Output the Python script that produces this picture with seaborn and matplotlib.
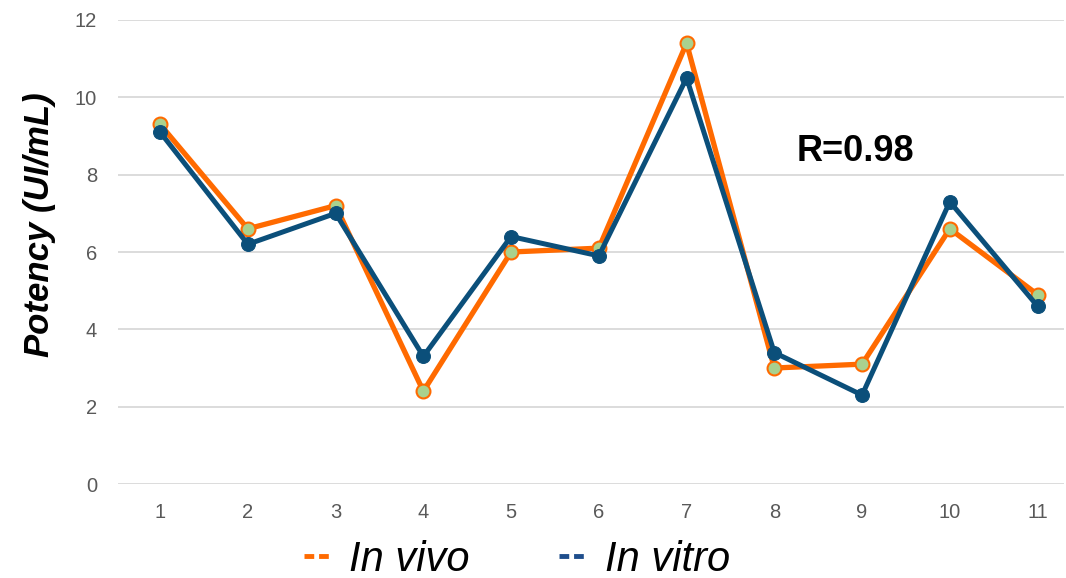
import matplotlib
matplotlib.use("Agg")
import matplotlib.pyplot as plt
import seaborn as sns
import pandas as pd
from matplotlib.lines import Line2D

samples = [1, 2, 3, 4, 5, 6, 7, 8, 9, 10, 11]
in_vivo = [9.3, 6.6, 7.2, 2.4, 6.0, 6.1, 11.4, 3.0, 3.1, 6.6, 4.9]
in_vitro = [9.1, 6.2, 7.0, 3.3, 6.4, 5.9, 10.5, 3.4, 2.3, 7.3, 4.6]
series_names = ["In vivo", "In vitro"]
y_ticks = [0, 2, 4, 6, 8, 10, 12]

sns.set_style("white")
plt.rcParams['font.family'] = ['Liberation Sans', 'DejaVu Sans']
plt.rcParams['text.color'] = 'black'

ORANGE = "#ff6a00"
BLUE = "#0b4f7a"
GREEN = "#a9d18e"

fig = plt.figure(figsize=(10.66, 5.78), dpi=100)
ax = fig.add_axes([0.1107, 0.1626, 0.8873, 0.8028])

df_vivo = pd.DataFrame({"x": samples, "y": in_vivo})
df_vitro = pd.DataFrame({"x": samples, "y": in_vitro})

sns.lineplot(data=df_vivo, x="x", y="y", ax=ax, color=ORANGE, linewidth=3.8,
             marker="o", markersize=10, markerfacecolor=GREEN,
             markeredgecolor=ORANGE, markeredgewidth=1.5, zorder=3)
sns.lineplot(data=df_vitro, x="x", y="y", ax=ax, color=BLUE, linewidth=3.6,
             marker="o", markersize=10, markerfacecolor=BLUE,
             markeredgecolor=BLUE, zorder=4)

ax.set_xlim(0.52, 11.3)
ax.set_ylim(0, 12)
ax.set_yticks(y_ticks)
ax.set_xticks(samples)
ax.set_xticklabels([str(s) for s in samples])
ax.grid(axis="y", color="#d9d9d9", linewidth=1.3)
ax.set_axisbelow(True)
for s in ax.spines.values():
    s.set_visible(False)
ax.tick_params(axis="both", length=0, labelsize=14.5, labelcolor="#595959")
ax.tick_params(axis="x", pad=14)
ax.tick_params(axis="y", pad=15)
ax.set_xlabel("")
ax.set_ylabel("Potency (UI/mL)", fontsize=25, fontweight="bold", style="italic",
              color="black")
ax.yaxis.set_label_coords(-0.066, 0.558)

ax.text(8.92, 8.6, "R=0.98", fontsize=26, fontweight="bold", ha="center", va="center",
        color="black")

handles = [Line2D([0], [0], color=ORANGE, linestyle=(0, (2, 1)), linewidth=3.5),
           Line2D([0], [0], color="#1f4e8c", linestyle=(0, (2, 1)), linewidth=3.5)]
leg = fig.legend(handles, series_names, loc="lower center", bbox_to_anchor=(0.485, -0.068),
                 ncol=2, frameon=False, prop={"size": 30, "style": "italic"},
                 handlelength=0.6, handletextpad=0.5, columnspacing=2.15)
for t in leg.get_texts():
    t.set_color("black")

fig.savefig("out.png", dpi=100)
